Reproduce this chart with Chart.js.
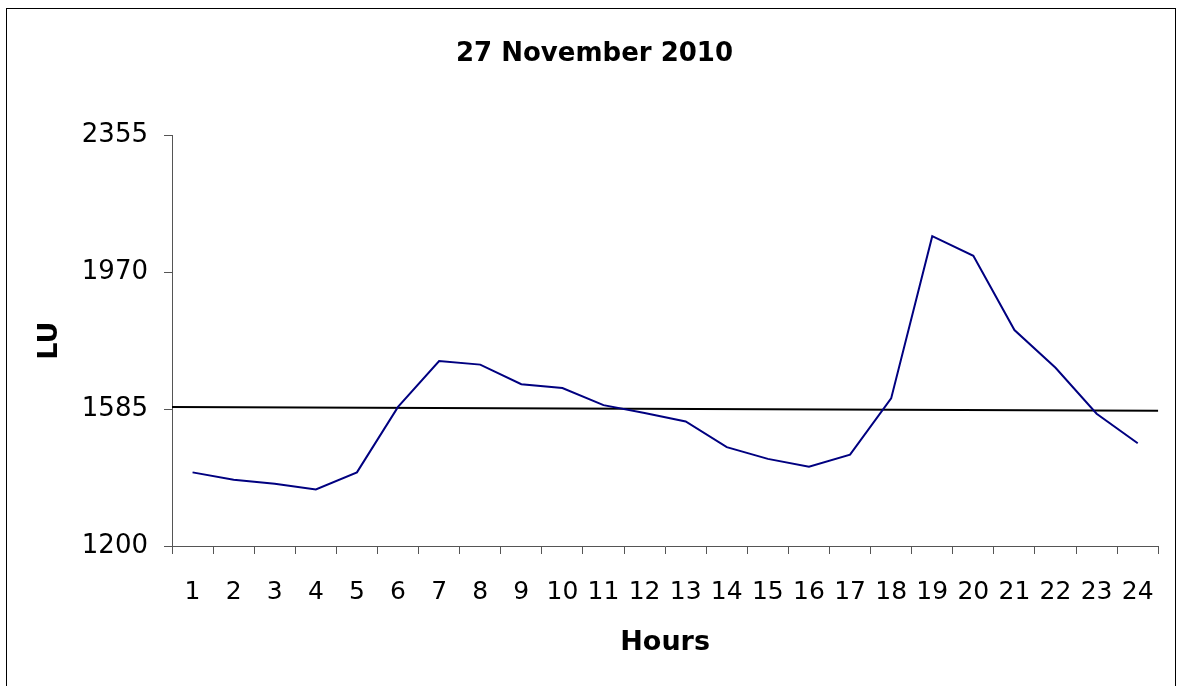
<!DOCTYPE html>
<html>
<head>
<meta charset="utf-8">
<script src="https://cdn.jsdelivr.net/npm/chart.js@4/dist/chart.umd.min.js"></script>
<style>
  html, body { margin: 0; padding: 0; background: #fff; overflow: hidden; }
  #wrap { position: relative; width: 1177px; height: 686px; }
  #frame {
    position: absolute; left: 6px; top: 8px; width: 1168px; height: 700px;
    border: 1px solid #000; pointer-events: none;
  }
</style>
</head>
<body>
<div id="wrap">
  <canvas id="chart" width="1177" height="686"></canvas>
  <div id="frame"></div>
</div>
<script>
// hourly values
const hours = ['1', '2', '3', '4', '5', '6', '7', '8', '9', '10', '11', '12',
               '13', '14', '15', '16', '17', '18', '19', '20', '21', '22', '23', '24'];
const luValues = [1407, 1386, 1375, 1359, 1407, 1591, 1720, 1710, 1655, 1644, 1596, 1574,
                  1550, 1478, 1445, 1423, 1457, 1615, 2071, 2016, 1807, 1701, 1572, 1489];

// trend line, ends at left and right edge of plot
const trendX = [0, 24];
const trendValues = [1591, 1580];

const yTicks = [1200, 1585, 1970, 2355];

const font = 'DejaVu Sans';
const axisColor = '#555';

const ctx = document.getElementById('chart').getContext('2d');
new Chart(ctx, {
  type: 'line',
  data: {
    labels: hours,
    datasets: [
      {
        label: 'LU',
        data: luValues,
        borderColor: '#000080',
        borderWidth: 2,
        pointRadius: 0,
        tension: 0,
        fill: false
      },
      {
        label: 'Trend',
        xAxisID: 'x2',
        data: trendX.map((x, i) => ({ x: x, y: trendValues[i] })),
        borderColor: '#000',
        borderWidth: 2,
        pointRadius: 0,
        tension: 0,
        fill: false
      }
    ]
  },
  options: {
    responsive: false,
    animation: false,
    layout: { padding: { left: 30, right: 18, top: 0, bottom: 0 } },
    plugins: {
      legend: { display: false },
      tooltip: { enabled: false },
      title: {
        display: true,
        text: '27 November 2010',
        color: '#000',
        font: { family: font, size: 26, weight: 'bold', lineHeight: 1.2 },
        padding: { top: 39, bottom: 65 }
      }
    },
    scales: {
      x: {
        type: 'category',
        offset: true,
        grid: { offset: true, drawOnChartArea: false, drawTicks: true, tickLength: 8, color: axisColor },
        border: { color: axisColor, width: 1 },
        ticks: {
          color: '#000', padding: 23, maxRotation: 0, autoSkip: false,
          font: { family: font, size: 25, lineHeight: 1.2 }
        },
        title: {
          display: true, text: 'Hours', color: '#000',
          font: { family: font, size: 27, weight: 'bold', lineHeight: 1.2 },
          padding: { top: 0, bottom: 27 }
        },
        afterFit: s => { s.height = 140; }
      },
      x2: {
        type: 'linear',
        display: false,
        min: 0,
        max: 24
      },
      y: {
        min: yTicks[0],
        max: yTicks[yTicks.length - 1],
        grid: { drawOnChartArea: false, drawTicks: true, tickLength: 8, color: axisColor },
        border: { color: axisColor, width: 1 },
        afterBuildTicks: s => { s.ticks = yTicks.map(v => ({ value: v })); },
        ticks: {
          color: '#000', padding: 16,
          font: { family: font, size: 26, lineHeight: 1.2 },
          callback: v => String(v)
        },
        title: {
          display: true, text: 'LU', color: '#000',
          font: { family: font, size: 27, weight: 'bold', lineHeight: 1.2 },
          padding: { top: 4, bottom: 0 }
        },
        afterFit: s => { s.width = 142; }
      }
    }
  }
});
</script>
</body>
</html>
